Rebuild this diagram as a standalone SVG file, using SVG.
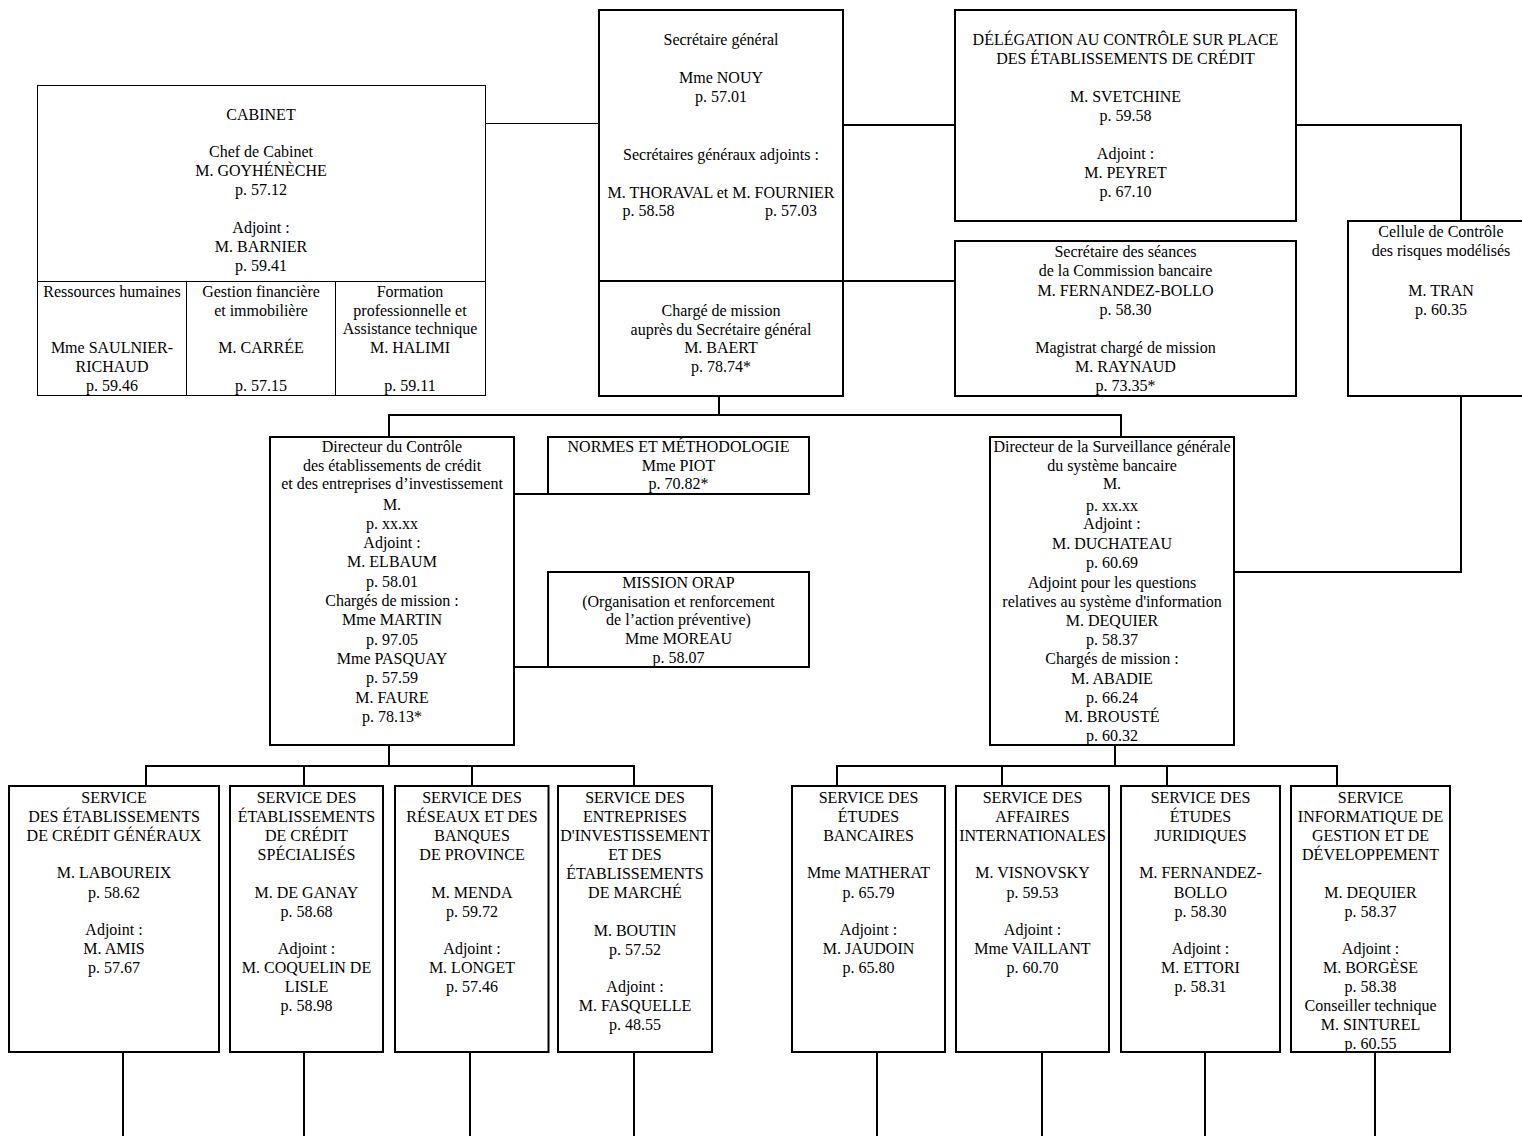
<svg xmlns="http://www.w3.org/2000/svg" width="1522" height="1136" viewBox="0 0 1522 1136">
<style>
  .bx{fill:#fff;stroke:#000;stroke-width:2}
  .thin{fill:#fff;stroke:#000;stroke-width:1}
  .ln{fill:none;stroke:#000;stroke-width:2}
  .ln1{fill:none;stroke:#000;stroke-width:1}
  text{font-family:"Liberation Serif","Times New Roman",serif;font-size:16px;fill:#000;text-anchor:middle}
</style>
<rect width="1522" height="1136" fill="#fff"/>
<g id="connectors">
  <polyline class="ln1" points="485.5,123.5 599,123.5"/>
  <polyline class="ln" points="843,125 955,125"/>
  <polyline class="ln" points="843,281 955,281"/>
  <polyline class="ln" points="1296,125 1461,125 1461,221"/>
  <polyline class="ln" points="1461,396 1461,572 1234,572"/>
  <polyline class="ln" points="719,396 719,415"/>
  <polyline class="ln" points="389,437 389,415 1121,415 1121,437"/>
  <polyline class="ln" points="514,494 548,494"/>
  <polyline class="ln" points="514,667 548,667"/>
  <polyline class="ln" points="389,745 389,766"/>
  <polyline class="ln" points="146,786 146,766 634,766 634,786"/>
  <polyline class="ln" points="304,766 304,786"/>
  <polyline class="ln" points="472,766 472,786"/>
  <polyline class="ln" points="123,1052 123,1136"/>
  <polyline class="ln" points="304,1052 304,1136"/>
  <polyline class="ln" points="470,1052 470,1136"/>
  <polyline class="ln" points="634,1052 634,1136"/>
  <polyline class="ln" points="1115,745 1115,766"/>
  <polyline class="ln" points="837,786 837,766 1337,766 1337,786"/>
  <polyline class="ln" points="1002,766 1002,786"/>
  <polyline class="ln" points="1167,766 1167,786"/>
  <polyline class="ln" points="877,1052 877,1136"/>
  <polyline class="ln" points="1042,1052 1042,1136"/>
  <polyline class="ln" points="1205,1052 1205,1136"/>
  <polyline class="ln" points="1375,1052 1375,1136"/>
</g>
<g id="cabinet">
  <rect class="thin" x="37.5" y="85.5" width="448" height="310"/>
  <line class="ln1" x1="37.5" y1="281.5" x2="485.5" y2="281.5"/>
  <line class="ln1" x1="186.5" y1="281.5" x2="186.5" y2="395.5"/>
  <line class="ln1" x1="335.5" y1="281.5" x2="335.5" y2="395.5"/>
  <text x="261" y="120">CABINET</text>
  <text x="261" y="157">Chef de Cabinet</text>
  <text x="261" y="176">M. GOYHÉNÈCHE</text>
  <text x="261" y="195">p. 57.12</text>
  <text x="261" y="233">Adjoint :</text>
  <text x="261" y="252">M. BARNIER</text>
  <text x="261" y="271">p. 59.41</text>
  <text x="112" y="297">Ressources humaines</text>
  <text x="112" y="353">Mme SAULNIER-</text>
  <text x="112" y="372">RICHAUD</text>
  <text x="112" y="391">p. 59.46</text>
  <text x="261" y="297">Gestion financière</text>
  <text x="261" y="316">et immobilière</text>
  <text x="261" y="353">M. CARRÉE</text>
  <text x="261" y="391">p. 57.15</text>
  <text x="410" y="297">Formation</text>
  <text x="410" y="316">professionnelle et</text>
  <text x="410" y="334">Assistance technique</text>
  <text x="410" y="353">M. HALIMI</text>
  <text x="410" y="391">p. 59.11</text>
</g>
<g id="secretaire">
  <rect class="bx" x="599" y="10" width="244" height="386"/>
  <line class="ln" x1="599" y1="281" x2="843" y2="281"/>
  <text x="721" y="45">Secrétaire général</text>
  <text x="721" y="83">Mme NOUY</text>
  <text x="721" y="102">p. 57.01</text>
  <text x="721" y="160">Secrétaires généraux adjoints :</text>
  <text x="721" y="198">M. THORAVAL et M. FOURNIER</text>
  <text x="648.5" y="216">p. 58.58</text>
  <text x="791" y="216">p. 57.03</text>
  <text x="721" y="316">Chargé de mission</text>
  <text x="721" y="335">auprès du Secrétaire général</text>
  <text x="721" y="353">M. BAERT</text>
  <text x="721" y="372">p. 78.74*</text>
</g>
<g id="delegation">
  <rect class="bx" x="955" y="10" width="341" height="211"/>
  <text x="1125.5" y="45">DÉLÉGATION AU CONTRÔLE SUR PLACE</text>
  <text x="1125.5" y="64">DES ÉTABLISSEMENTS DE CRÉDIT</text>
  <text x="1125.5" y="102">M. SVETCHINE</text>
  <text x="1125.5" y="121">p. 59.58</text>
  <text x="1125.5" y="159">Adjoint :</text>
  <text x="1125.5" y="178">M. PEYRET</text>
  <text x="1125.5" y="197">p. 67.10</text>
</g>
<g id="seances">
  <rect class="bx" x="955" y="241" width="341" height="155"/>
  <text x="1125.5" y="257">Secrétaire des séances</text>
  <text x="1125.5" y="276">de la Commission bancaire</text>
  <text x="1125.5" y="296">M. FERNANDEZ-BOLLO</text>
  <text x="1125.5" y="315">p. 58.30</text>
  <text x="1125.5" y="353">Magistrat chargé de mission</text>
  <text x="1125.5" y="372">M. RAYNAUD</text>
  <text x="1125.5" y="391">p. 73.35*</text>
</g>
<g id="cellule">
  <rect class="bx" x="1348" y="221" width="190" height="175"/>
  <text x="1441" y="237">Cellule de Contrôle</text>
  <text x="1441" y="256">des risques modélisés</text>
  <text x="1441" y="296">M. TRAN</text>
  <text x="1441" y="315">p. 60.35</text>
</g>
<g id="directeur-controle">
  <rect class="bx" x="270" y="437" width="244" height="308"/>
  <text x="392" y="452">Directeur du Contrôle</text>
  <text x="392" y="471">des établissements de crédit</text>
  <text x="392" y="489">et des entreprises d’investissement</text>
  <text x="392" y="510">M.</text>
  <text x="392" y="529">p. xx.xx</text>
  <text x="392" y="548">Adjoint :</text>
  <text x="392" y="567">M. ELBAUM</text>
  <text x="392" y="587">p. 58.01</text>
  <text x="392" y="606">Chargés de mission :</text>
  <text x="392" y="625">Mme MARTIN</text>
  <text x="392" y="645">p. 97.05</text>
  <text x="392" y="664">Mme PASQUAY</text>
  <text x="392" y="683">p. 57.59</text>
  <text x="392" y="703">M. FAURE</text>
  <text x="392" y="722">p. 78.13*</text>
</g>
<g id="normes">
  <rect class="bx" x="548" y="437" width="261" height="57"/>
  <text x="678.5" y="452">NORMES ET MÉTHODOLOGIE</text>
  <text x="678.5" y="471">Mme PIOT</text>
  <text x="678.5" y="489">p. 70.82*</text>
</g>
<g id="orap">
  <rect class="bx" x="548" y="572" width="261" height="95"/>
  <text x="678.5" y="588">MISSION ORAP</text>
  <text x="678.5" y="607">(Organisation et renforcement</text>
  <text x="678.5" y="625">de l’action préventive)</text>
  <text x="678.5" y="644">Mme MOREAU</text>
  <text x="678.5" y="663">p. 58.07</text>
</g>
<g id="directeur-surveillance">
  <rect class="bx" x="990" y="437" width="244" height="308"/>
  <text x="1112" y="452">Directeur de la Surveillance générale</text>
  <text x="1112" y="471">du système bancaire</text>
  <text x="1112" y="489">M.</text>
  <text x="1112" y="511">p. xx.xx</text>
  <text x="1112" y="529">Adjoint :</text>
  <text x="1112" y="549">M. DUCHATEAU</text>
  <text x="1112" y="568">p. 60.69</text>
  <text x="1112" y="588">Adjoint pour les questions</text>
  <text x="1112" y="607">relatives au système d'information</text>
  <text x="1112" y="626">M. DEQUIER</text>
  <text x="1112" y="645">p. 58.37</text>
  <text x="1112" y="664">Chargés de mission :</text>
  <text x="1112" y="684">M. ABADIE</text>
  <text x="1112" y="703">p. 66.24</text>
  <text x="1112" y="722">M. BROUSTÉ</text>
  <text x="1112" y="741">p. 60.32</text>
</g>
<g id="service-generaux">
  <rect class="bx" x="9" y="786" width="210" height="266"/>
  <text x="114" y="803">SERVICE</text>
  <text x="114" y="822">DES ÉTABLISSEMENTS</text>
  <text x="114" y="841">DE CRÉDIT GÉNÉRAUX</text>
  <text x="114" y="878">M. LABOUREIX</text>
  <text x="114" y="898">p. 58.62</text>
  <text x="114" y="935">Adjoint :</text>
  <text x="114" y="954">M. AMIS</text>
  <text x="114" y="973">p. 57.67</text>
</g>
<g id="service-specialises">
  <rect class="bx" x="230" y="786" width="153" height="266"/>
  <text x="306.5" y="803">SERVICE DES</text>
  <text x="306.5" y="822">ÉTABLISSEMENTS</text>
  <text x="306.5" y="841">DE CRÉDIT</text>
  <text x="306.5" y="860">SPÉCIALISÉS</text>
  <text x="306.5" y="898">M. DE GANAY</text>
  <text x="306.5" y="917">p. 58.68</text>
  <text x="306.5" y="954">Adjoint :</text>
  <text x="306.5" y="973">M. COQUELIN DE</text>
  <text x="306.5" y="992">LISLE</text>
  <text x="306.5" y="1011">p. 58.98</text>
</g>
<g id="service-reseaux">
  <rect class="bx" x="395" y="786" width="153.5" height="266"/>
  <text x="472" y="803">SERVICE DES</text>
  <text x="472" y="822">RÉSEAUX ET DES</text>
  <text x="472" y="841">BANQUES</text>
  <text x="472" y="860">DE PROVINCE</text>
  <text x="472" y="898">M. MENDA</text>
  <text x="472" y="917">p. 59.72</text>
  <text x="472" y="954">Adjoint :</text>
  <text x="472" y="973">M. LONGET</text>
  <text x="472" y="992">p. 57.46</text>
</g>
<g id="service-entreprises">
  <rect class="bx" x="558" y="786" width="154" height="266"/>
  <text x="635" y="803">SERVICE DES</text>
  <text x="635" y="822">ENTREPRISES</text>
  <text x="635" y="841">D'INVESTISSEMENT</text>
  <text x="635" y="860">ET DES</text>
  <text x="635" y="879">ÉTABLISSEMENTS</text>
  <text x="635" y="898">DE MARCHÉ</text>
  <text x="635" y="936">M. BOUTIN</text>
  <text x="635" y="955">p. 57.52</text>
  <text x="635" y="992">Adjoint :</text>
  <text x="635" y="1011">M. FASQUELLE</text>
  <text x="635" y="1030">p. 48.55</text>
</g>
<g id="service-etudes-bancaires">
  <rect class="bx" x="792" y="786" width="153" height="266"/>
  <text x="868.5" y="803">SERVICE DES</text>
  <text x="868.5" y="822">ÉTUDES</text>
  <text x="868.5" y="841">BANCAIRES</text>
  <text x="868.5" y="878">Mme MATHERAT</text>
  <text x="868.5" y="898">p. 65.79</text>
  <text x="868.5" y="935">Adjoint :</text>
  <text x="868.5" y="954">M. JAUDOIN</text>
  <text x="868.5" y="973">p. 65.80</text>
</g>
<g id="service-affaires-internationales">
  <rect class="bx" x="956" y="786" width="153" height="266"/>
  <text x="1032.5" y="803">SERVICE DES</text>
  <text x="1032.5" y="822">AFFAIRES</text>
  <text x="1032.5" y="841">INTERNATIONALES</text>
  <text x="1032.5" y="878">M. VISNOVSKY</text>
  <text x="1032.5" y="898">p. 59.53</text>
  <text x="1032.5" y="935">Adjoint :</text>
  <text x="1032.5" y="954">Mme VAILLANT</text>
  <text x="1032.5" y="973">p. 60.70</text>
</g>
<g id="service-etudes-juridiques">
  <rect class="bx" x="1121" y="786" width="159" height="266"/>
  <text x="1200.5" y="803">SERVICE DES</text>
  <text x="1200.5" y="822">ÉTUDES</text>
  <text x="1200.5" y="841">JURIDIQUES</text>
  <text x="1200.5" y="878">M. FERNANDEZ-</text>
  <text x="1200.5" y="898">BOLLO</text>
  <text x="1200.5" y="917">p. 58.30</text>
  <text x="1200.5" y="954">Adjoint :</text>
  <text x="1200.5" y="973">M. ETTORI</text>
  <text x="1200.5" y="992">p. 58.31</text>
</g>
<g id="service-informatique">
  <rect class="bx" x="1291" y="786" width="159" height="266"/>
  <text x="1370.5" y="803">SERVICE</text>
  <text x="1370.5" y="822">INFORMATIQUE DE</text>
  <text x="1370.5" y="841">GESTION ET DE</text>
  <text x="1370.5" y="860">DÉVELOPPEMENT</text>
  <text x="1370.5" y="898">M. DEQUIER</text>
  <text x="1370.5" y="917">p. 58.37</text>
  <text x="1370.5" y="954">Adjoint :</text>
  <text x="1370.5" y="973">M. BORGÈSE</text>
  <text x="1370.5" y="992">p. 58.38</text>
  <text x="1370.5" y="1011">Conseiller technique</text>
  <text x="1370.5" y="1030">M. SINTUREL</text>
  <text x="1370.5" y="1049">p. 60.55</text>
</g>
</svg>
